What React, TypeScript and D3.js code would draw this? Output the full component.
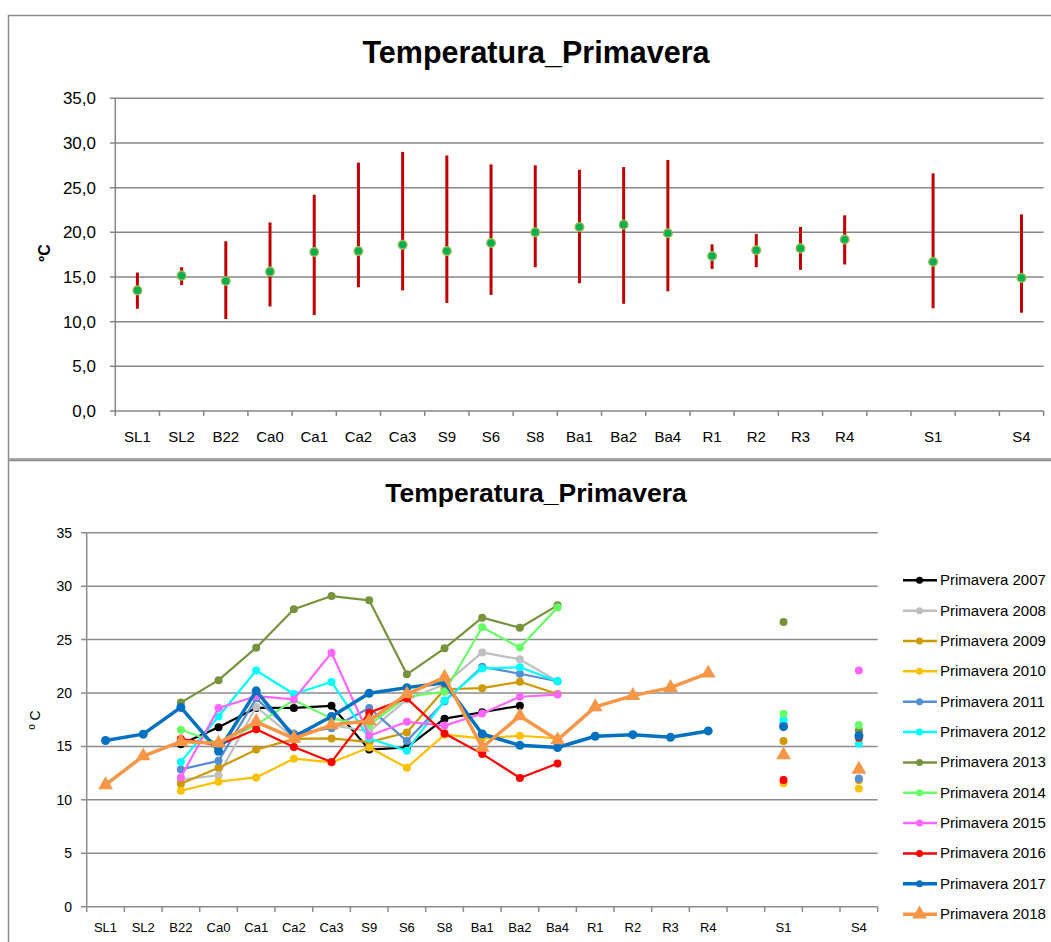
import React from "react";
import * as d3 from "d3";

const categories = ["SL1","SL2","B22","Ca0","Ca1","Ca2","Ca3","S9","S6","S8","Ba1","Ba2","Ba4","R1","R2","R3","R4","","S1","","S4"];

// Top chart: mean, min, max per site
const meanVals = [13.5,15.15,14.55,15.6,17.8,17.9,18.6,17.9,18.8,20.0,20.6,20.86,19.9,17.35,18.0,18.2,19.2,null,16.7,null,14.9];
const minVals = [11.45,14.1,10.3,11.7,10.75,13.85,13.5,12.1,13.0,16.1,14.3,12.0,13.4,15.9,16.1,15.8,16.4,null,11.5,null,11.0];
const maxVals = [15.5,16.1,19.0,21.1,24.2,27.8,29.0,28.6,27.6,27.5,27.0,27.3,28.1,18.65,19.8,20.6,21.9,null,26.6,null,22.0];

const topTicks = [0,5,10,15,20,25,30,35];
const bottomTicks = [0,5,10,15,20,25,30,35];

const N = null;
const s2007 = [N,N,15.2,16.8,18.6,18.6,18.8,14.7,14.9,17.6,18.2,18.8,N,N,N,N,N,N,N,N,N];
const s2008 = [N,N,11.9,12.3,18.7,15.8,17.0,16.4,19.4,20.8,23.8,23.15,21.1,N,N,N,N,N,N,N,N];
const s2009 = [N,N,11.5,13.0,14.7,15.7,15.75,15.4,16.3,20.35,20.45,21.05,19.9,N,N,N,N,N,15.5,N,11.85];
const s2010 = [N,N,10.85,11.7,12.1,13.85,13.5,14.9,13.0,16.1,15.75,16.0,15.75,N,N,N,N,N,11.55,N,11.05];
const s2011 = [N,N,12.85,13.65,19.5,16.2,16.7,18.6,15.5,19.2,22.45,21.8,21.1,N,N,N,N,N,17.2,N,12.0];
const s2012 = [N,N,13.55,17.8,22.1,19.9,21.03,15.75,14.6,19.3,22.3,22.4,21.1,N,N,N,N,N,17.5,N,15.25];
const s2013 = [N,N,19.1,21.2,24.24,27.83,29.07,28.67,21.75,24.18,27.05,26.1,28.2,N,N,N,N,N,26.65,N,16.5];
const s2014 = [N,N,16.56,15.3,17.0,19.35,17.6,17.0,19.65,20.12,26.15,24.25,28.0,N,N,N,N,N,18.05,N,17.0];
const s2015 = [N,N,12.1,18.6,19.7,19.4,23.77,16.0,17.3,16.95,18.07,19.65,19.85,N,N,N,N,N,N,N,22.1];
const s2016 = [N,N,15.7,15.1,16.6,14.95,13.55,18.16,19.5,16.2,14.3,12.05,13.4,N,N,N,N,N,11.85,N,15.8];
const s2017 = [15.55,16.15,18.65,14.55,20.2,15.9,17.8,19.97,20.5,20.96,16.16,15.1,14.9,15.95,16.1,15.85,16.45,N,16.85,N,16.0];
const s2018 = [11.4,14.1,15.45,15.3,17.3,15.75,17.0,17.4,19.9,21.47,14.9,17.85,15.6,18.7,19.75,20.5,21.85,N,14.2,N,12.85];

const seriesNames = ["Primavera 2007","Primavera 2008","Primavera 2009","Primavera 2010","Primavera 2011","Primavera 2012","Primavera 2013","Primavera 2014","Primavera 2015","Primavera 2016","Primavera 2017","Primavera 2018"];
const seriesValues = [s2007,s2008,s2009,s2010,s2011,s2012,s2013,s2014,s2015,s2016,s2017,s2018];
const seriesColors = ["#000000","#BFBFBF","#CC9900","#FFC000","#558ED5","#00FFFF","#77933C","#66FF66","#FF66FF","#FF0000","#0070C0","#F79646"];

const FONT = "'Liberation Sans', Arial, sans-serif";

export default function App() {
  const idx = d3.range(categories.length);

  // ---------- top chart ----------
  const tx = d3.scaleBand<number>().domain(idx).range([115.3, 1043.6]).padding(0);
  const ty = d3.scaleLinear().domain([0, 35]).range([411, 98.3]);
  const tBounds = d3.range(categories.length + 1).map(i => 115.3 + i * tx.step());

  // ---------- bottom chart ----------
  const bx = d3.scaleBand<number>().domain(idx).range([86.7, 877.7]).padding(0);
  const by = d3.scaleLinear().domain([0, 35]).range([906.7, 532.7]);
  const bBounds = d3.range(categories.length + 1).map(i => 86.7 + i * bx.step());

  const line = d3.line<number | null>()
    .defined(d => d !== null)
    .x((_, i) => (bx(i) as number) + bx.bandwidth() / 2)
    .y(d => by(d as number));

  const tri = d3.symbol().type(d3.symbolTriangle).size(95)();
  const legendY = (i: number) => 580.3 + i * 30.35;

  return (
    <svg width={1051} height={942} style={{ position: "absolute", left: 0, top: 0, background: "#fff" }} fontFamily={FONT}>
      <rect x={0} y={0} width={1051} height={942} fill="#fff" />
      {/* top chart frame */}
      <rect x={8.5} y={15.5} width={1060} height={443.5} fill="#fff" stroke="#8c8c8c" strokeWidth={1.5} />
      <text x={536} y={63} textAnchor="middle" fontSize={30.5} fontWeight="bold" fill="#000">Temperatura_Primavera</text>
      {topTicks.map(t => (
        <g key={"tg" + t}>
          <line x1={110} x2={1043.6} y1={ty(t)} y2={ty(t)} stroke="#868686" strokeWidth={1.5} />
          <text x={96} y={ty(t) + 6} textAnchor="end" fontSize={17} fill="#000">{t.toFixed(1).replace(".", ",")}</text>
        </g>
      ))}
      <line x1={115.3} x2={115.3} y1={98.3} y2={411} stroke="#868686" strokeWidth={1.5} />
      {tBounds.map((b, i) => (
        <line key={"tt" + i} x1={b} x2={b} y1={411} y2={416} stroke="#868686" strokeWidth={1.5} />
      ))}
      {categories.map((c, i) => (
        <text key={"tl" + i} x={(tx(i) as number) + tx.bandwidth() / 2} y={442} textAnchor="middle" fontSize={15} fill="#000">{c}</text>
      ))}
      <text transform="translate(50,253) rotate(-90)" textAnchor="middle" fontSize={16} fontWeight="bold" fill="#000">ºC</text>
      {idx.filter(i => meanVals[i] !== null).map(i => {
        const cx = (tx(i) as number) + tx.bandwidth() / 2;
        return (
          <g key={"eb" + i}>
            <line x1={cx} x2={cx} y1={ty(minVals[i] as number)} y2={ty(maxVals[i] as number)} stroke="#C00000" strokeWidth={3} />
            <circle cx={cx} cy={ty(meanVals[i] as number)} r={4.3} fill="#00B050" stroke="#9BBB59" strokeWidth={1.5} />
          </g>
        );
      })}

      {/* bottom chart frame */}
      <rect x={8.5} y={460.5} width={1060} height={500} fill="#fff" stroke="#8c8c8c" strokeWidth={1.5} />
      <text x={536} y={502} textAnchor="middle" fontSize={26.5} fontWeight="bold" fill="#000">Temperatura_Primavera</text>
      {bottomTicks.map(t => (
        <g key={"bg" + t}>
          <line x1={81} x2={877.7} y1={by(t)} y2={by(t)} stroke="#8c8c8c" strokeWidth={1.5} />
          <text x={72} y={by(t) + 5} textAnchor="end" fontSize={14} fill="#000">{t}</text>
        </g>
      ))}
      <line x1={86.7} x2={86.7} y1={532.7} y2={906.7} stroke="#8c8c8c" strokeWidth={1.5} />
      {bBounds.map((b, i) => (
        <line key={"bt" + i} x1={b} x2={b} y1={906.7} y2={912} stroke="#8c8c8c" strokeWidth={1.5} />
      ))}
      {categories.map((c, i) => (
        <text key={"bl" + i} x={(bx(i) as number) + bx.bandwidth() / 2} y={932} textAnchor="middle" fontSize={13} fill="#000">{c}</text>
      ))}
      <text transform="translate(40,720) rotate(-90)" textAnchor="middle" fontSize={14} fill="#000">º C</text>

      {seriesValues.map((vals, s) => {
        const thick = s >= 10;
        const color = seriesColors[s];
        return (
          <g key={"s" + s}>
            <path d={line(vals) || ""} fill="none" stroke={color} strokeWidth={thick ? 3.5 : 2.2} strokeLinejoin="round" />
            {vals.map((v, i) => {
              if (v === null) return null;
              const cx = (bx(i) as number) + bx.bandwidth() / 2;
              const cy = by(v);
              if (s === 11) {
                return <path key={i} d={tri || ""} transform={`translate(${cx},${cy})`} fill={color} />;
              }
              return <circle key={i} cx={cx} cy={cy} r={thick ? 4.5 : 4} fill={color} />;
            })}
          </g>
        );
      })}

      {/* legend */}
      {seriesNames.map((n, i) => {
        const y = legendY(i);
        const color = seriesColors[i];
        const thick = i >= 10;
        return (
          <g key={"lg" + i}>
            <line x1={903} x2={937} y1={y} y2={y} stroke={color} strokeWidth={thick ? 3.5 : 2.5} />
            {i === 11
              ? <path d={tri || ""} transform={`translate(919.5,${y})`} fill={color} />
              : <circle cx={919.5} cy={y} r={3.5} fill={color} />}
            <text x={940} y={y + 5} fontSize={15} fill="#000">{n}</text>
          </g>
        );
      })}
    </svg>
  );
}
